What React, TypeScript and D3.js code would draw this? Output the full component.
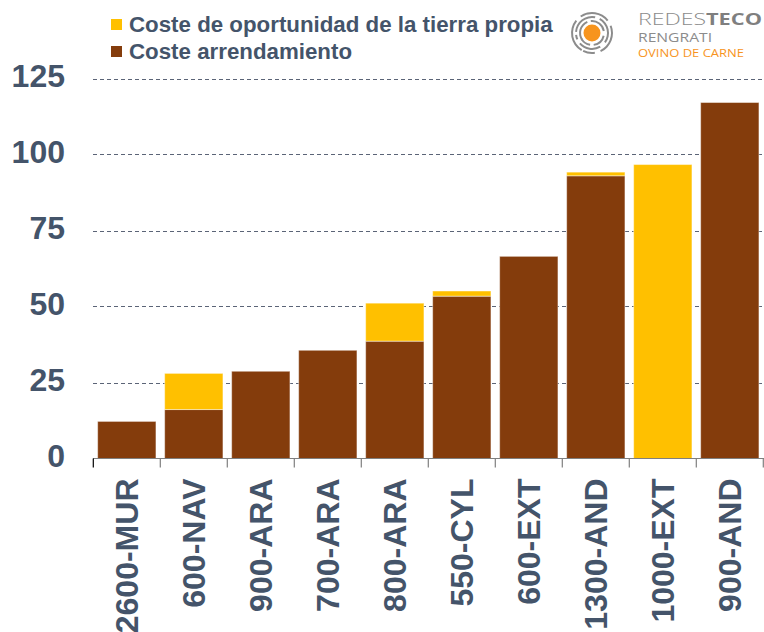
import { useRef, useEffect } from 'react';
import * as d3 from 'd3';

const categories = ['2600-MUR', '600-NAV', '900-ARA', '700-ARA', '800-ARA', '550-CYL', '600-EXT', '1300-AND', '1000-EXT', '900-AND'];
const arrendamiento = [12.2, 16.1, 28.7, 35.6, 38.6, 53.4, 66.5, 93.0, 0, 117.1];
const oportunidad = [0, 11.9, 0, 0, 12.5, 1.7, 0, 1.2, 96.7, 0];
const yTicks = [0, 25, 50, 75, 100, 125];
const seriesNames = ['Coste arrendamiento', 'Coste de oportunidad de la tierra propia'];
const seriesColors = ['#843C0C', '#FFC000'];

const W = 764;
const H = 632;
const TEXT = '#44546A';

function App() {
  const svgRef = useRef<SVGSVGElement>(null);

  useEffect(() => {
    const svg = d3.select(svgRef.current);
    svg.selectAll('*').remove();

    const x = d3.scaleBand().domain(categories).range([93.3, 763.3]).paddingInner(0.13).paddingOuter(0.065);
    const y = d3.scaleLinear().domain([0, 125]).range([458.5, 78.5]);

    // grid lines
    svg.append('g')
      .selectAll('line')
      .data(yTicks.filter(d => d > 0))
      .join('line')
      .attr('x1', 93).attr('x2', W)
      .attr('y1', d => Math.round(y(d)) + 0.5).attr('y2', d => Math.round(y(d)) + 0.5)
      .attr('stroke', '#5B6477').attr('stroke-width', 1).attr('stroke-dasharray', '4,3');

    // y labels
    svg.append('g')
      .selectAll('text')
      .data(yTicks)
      .join('text')
      .attr('x', 65).attr('y', d => y(d) + 8.5)
      .attr('text-anchor', 'end')
      .attr('font-family', 'Liberation Sans, Arial, sans-serif')
      .attr('font-weight', 'bold').attr('font-size', 32)
      .attr('fill', TEXT)
      .text(d => d);

    // stacked bars
    const table = categories.map((c, i) => ({ cat: c, a: arrendamiento[i], o: oportunidad[i] }));
    const stacked = d3.stack<any>().keys(['a', 'o'])(table);
    svg.append('g')
      .selectAll('g')
      .data(stacked)
      .join('g')
      .attr('fill', (_, i) => seriesColors[i])
      .selectAll('rect')
      .data(d => d.filter(s => s[1] - s[0] > 0))
      .join('rect')
      .attr('x', d => x(d.data.cat)!)
      .attr('width', x.bandwidth())
      .attr('y', d => y(d[1]))
      .attr('height', d => y(d[0]) - y(d[1]))
      .attr('stroke', 'rgba(255,255,255,0.45)')
      .attr('stroke-width', 1);

    // x axis
    const axisG = svg.append('g').attr('transform', `translate(0,${458.5})`);
    axisG.append('line').attr('x1', 93).attr('x2', W).attr('stroke', '#7F7F7F').attr('stroke-width', 1.2);
    const step = x.step();
    const bounds = d3.range(categories.length + 1).map(i => 93.3 + i * step);
    axisG.selectAll('line.tick')
      .data(bounds)
      .join('line')
      .attr('class', 'tick')
      .attr('x1', d => d).attr('x2', d => d)
      .attr('y1', 0).attr('y2', 9)
      .attr('stroke', (_, i) => (i === 0 ? '#000' : '#7F7F7F')).attr('stroke-width', 1.2);

    axisG.selectAll('text')
      .data(categories)
      .join('text')
      .attr('transform', d => `translate(${x(d)! + x.bandwidth() / 2 + 11},${20}) rotate(-90)`)
      .attr('text-anchor', 'end')
      .attr('font-family', 'Liberation Sans, Arial, sans-serif')
      .attr('font-weight', 'bold').attr('font-size', 32)
      .attr('fill', TEXT)
      .text(d => d);

    // legend
    const legend = svg.append('g');
    const legendItems = [
      { name: seriesNames[1], color: seriesColors[1], y: 19 },
      { name: seriesNames[0], color: seriesColors[0], y: 46 },
    ];
    legendItems.forEach(it => {
      legend.append('rect').attr('x', 111).attr('y', it.y).attr('width', 11).attr('height', 11).attr('fill', it.color);
      legend.append('text')
        .attr('x', 129).attr('y', it.y + 12.5)
        .attr('font-family', 'Liberation Sans, Arial, sans-serif')
        .attr('font-weight', 'bold').attr('font-size', 22.3)
        .attr('fill', TEXT)
        .text(it.name);
    });

    // logo
    const logo = svg.append('g').attr('transform', 'translate(592,33)');
    logo.append('circle').attr('r', 8.5).attr('fill', '#F7941D');
    const rings = [
      { r0: 11, r1: 13, segs: [[-2.2, -0.4], [-0.1, 1.4], [1.8, 3.0], [3.3, 4.2]] },
      { r0: 15, r1: 17, segs: [[-1.5, 0.2], [0.5, 2.2], [2.6, 4.0], [4.3, 4.6]] },
      { r0: 19, r1: 21, segs: [[-2.6, -0.9], [-0.6, 0.9], [1.2, 2.7], [3.0, 3.6]] },
    ];
    const arcGen = d3.arc<any>();
    rings.forEach(ring => {
      ring.segs.forEach(s => {
        logo.append('path')
          .attr('d', arcGen({ innerRadius: ring.r0, outerRadius: ring.r1, startAngle: s[0], endAngle: s[1] }))
          .attr('fill', '#8C8C8C');
      });
    });
    svg.append('text').attr('x', 638).attr('y', 25)
      .attr('font-family', 'Open Sans, sans-serif').attr('font-size', 16.5).attr('fill', '#8C8C8C')
      .attr('font-weight', 300).attr('textLength', 68).attr('lengthAdjust', 'spacingAndGlyphs')
      .text('REDES');
    svg.append('text').attr('x', 706).attr('y', 25)
      .attr('font-family', 'Open Sans, sans-serif').attr('font-size', 16.5).attr('fill', '#7F7F7F')
      .attr('font-weight', 'bold').attr('textLength', 56).attr('lengthAdjust', 'spacingAndGlyphs')
      .text('TECO');
    svg.append('text').attr('x', 638).attr('y', 41.5)
      .attr('font-family', 'Open Sans, sans-serif').attr('font-size', 12.5).attr('fill', '#8C8C8C')
      .attr('textLength', 74).attr('lengthAdjust', 'spacingAndGlyphs')
      .text('RENGRATI');
    svg.append('text').attr('x', 638).attr('y', 56.5)
      .attr('font-family', 'Open Sans, sans-serif').attr('font-size', 10.5).attr('fill', '#F7941D')
      .attr('textLength', 106).attr('lengthAdjust', 'spacingAndGlyphs')
      .text('OVINO DE CARNE');
  }, []);

  return (
    <svg ref={svgRef} width={W} height={H}
      style={{ position: 'absolute', left: 0, top: 0, background: '#fff' }} />
  );
}

export default App;
